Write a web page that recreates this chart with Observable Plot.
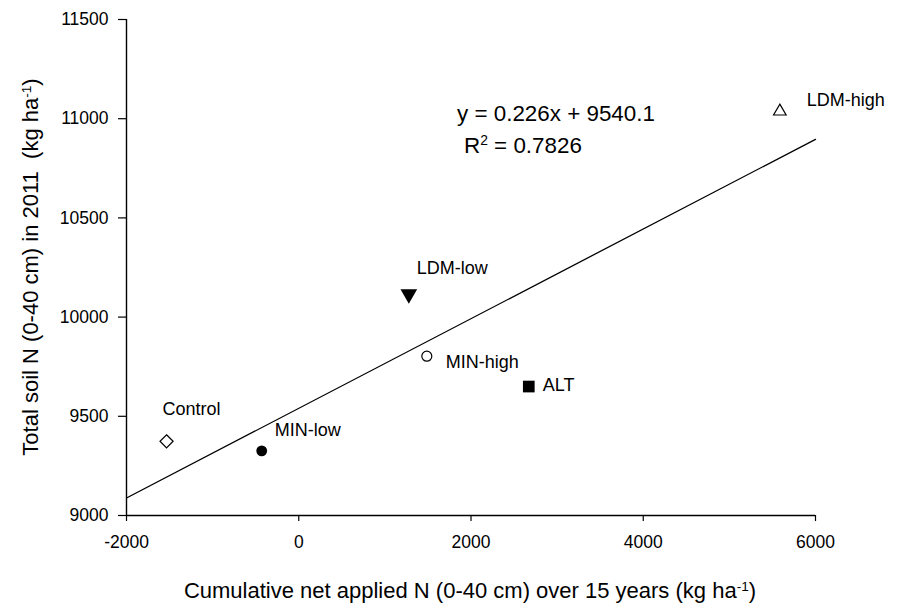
<!DOCTYPE html>
<html><head><meta charset="utf-8">
<script src="https://cdn.jsdelivr.net/npm/d3@7"></script>
<script src="https://cdn.jsdelivr.net/npm/@observablehq/plot@0.6"></script>
<style>body{margin:0;background:#fff} #chart svg{display:block}</style>
</head><body><div id="chart"></div>
<script>
// ---- data ----
const treatments  = ["Control", "MIN-low", "LDM-low", "MIN-high", "ALT", "LDM-high"];
const netAppliedN = [-1535, -430, 1278, 1487, 2671, 5586];
const totalSoilN  = [9374, 9326, 10116, 9803, 9650, 11037];
const xTicks = [-2000, 0, 2000, 4000, 6000];
const yTicks = [9000, 9500, 10000, 10500, 11000, 11500];
const slope = 0.226, intercept = 9540.1, r2 = "0.7826";

// ---- styles ----
const FONT = "'Liberation Sans', Arial, Helvetica, sans-serif";
const marker = {
  "Control":  {symbol: "diamond2", r: 5.9, fill: "white", stroke: "black"},
  "MIN-low":  {symbol: "circle",   r: 5.4, fill: "black", stroke: "none"},
  "LDM-low":  {symbol: "triangle", r: 6.2, fill: "black", stroke: "none", rotate: 180},
  "MIN-high": {symbol: "circle",   r: 5.0, fill: "white", stroke: "black"},
  "ALT":      {symbol: "square",   r: 6.6, fill: "black", stroke: "none"},
  "LDM-high": {symbol: "triangle2",r: 6.0, fill: "white", stroke: "black"}
};
const labelOffset = {
  "Control": [-4, -26], "MIN-low": [13, -14.6], "LDM-low": [8, -19.6],
  "MIN-high": [19, 11.6], "ALT": [14, 4], "LDM-high": [27, -5.1]
};

const rows = treatments.map((t, i) => ({t, x: netAppliedN[i], y: totalSoilN[i]}));
const fitLine = [xTicks[0], xTicks[xTicks.length - 1]].map(x => ({x, y: slope * x + intercept}));

const marks = [
  Plot.line(fitLine, {x: "x", y: "y", stroke: "black", strokeWidth: 1.3}),
  Plot.ruleY([yTicks[0]], {stroke: "black", strokeWidth: 1.4}),
  Plot.ruleX([xTicks[0]], {stroke: "black", strokeWidth: 1.4}),
  Plot.axisX({ticks: xTicks, tickSize: 6, tickPadding: 14, tickFormat: d => String(d), label: null, fontSize: 17.5, stroke: "black", strokeWidth: 1.2}),
  Plot.axisY({ticks: yTicks, tickSize: 8, tickPadding: 10, tickFormat: d => String(d), label: null, fontSize: 17.5, stroke: "black", strokeWidth: 1.2})
];
for (const row of rows) {
  const m = marker[row.t];
  marks.push(Plot.dot([row], {x: "x", y: "y", symbol: m.symbol, r: m.r, fill: m.fill, stroke: m.stroke, strokeWidth: 1.2, rotate: m.rotate || 0}));
  const [dx, dy] = labelOffset[row.t];
  marks.push(Plot.text([row], {x: "x", y: "y", text: "t", dx, dy, textAnchor: "start", lineAnchor: "bottom", fontSize: 18, fill: "black"}));
}

const chart = Plot.plot({
  width: 897, height: 604,
  marginLeft: 126, marginRight: 82, marginTop: 19, marginBottom: 89,
  x: {domain: [xTicks[0], xTicks[xTicks.length - 1]]},
  y: {domain: [yTicks[0], yTicks[yTicks.length - 1]]},
  style: {fontFamily: FONT, fontSize: "17.5px", color: "black", background: "white"},
  marks
});
document.getElementById("chart").appendChild(chart);

// ---- titles and equation with superscripts ----
const svg = d3.select(chart);
const g = svg.append("g").attr("font-family", FONT).attr("fill", "black");
function supText(sel, parts) {
  for (const [s, sup] of parts) {
    const ts = sel.append("tspan").text(s);
    if (sup) ts.attr("baseline-shift", "super").attr("font-size", "0.62em");
  }
  return sel;
}
supText(g.append("text").attr("x", 470).attr("y", 598).attr("text-anchor", "middle").attr("font-size", 22).attr("xml:space", "preserve"),
  [["Cumulative net applied N (0-40 cm) over 15 years (kg ha"], ["-1", true], [")"]]);
supText(g.append("text").attr("transform", "translate(38,267) rotate(-90)").attr("text-anchor", "middle").attr("font-size", 22).attr("xml:space", "preserve"),
  [["Total soil N (0-40 cm) in 2011  (kg ha"], ["-1", true], [")"]]);
g.append("text").attr("x", 457).attr("y", 121).attr("text-anchor", "start").attr("font-size", 22.4).attr("xml:space", "preserve")
  .text(`y = ${slope}x + ${intercept}`);
supText(g.append("text").attr("x", 464).attr("y", 153).attr("text-anchor", "start").attr("font-size", 22.4).attr("xml:space", "preserve"),
  [["R"], ["2", true], [` = ${r2}`]]);
</script></body></html>
